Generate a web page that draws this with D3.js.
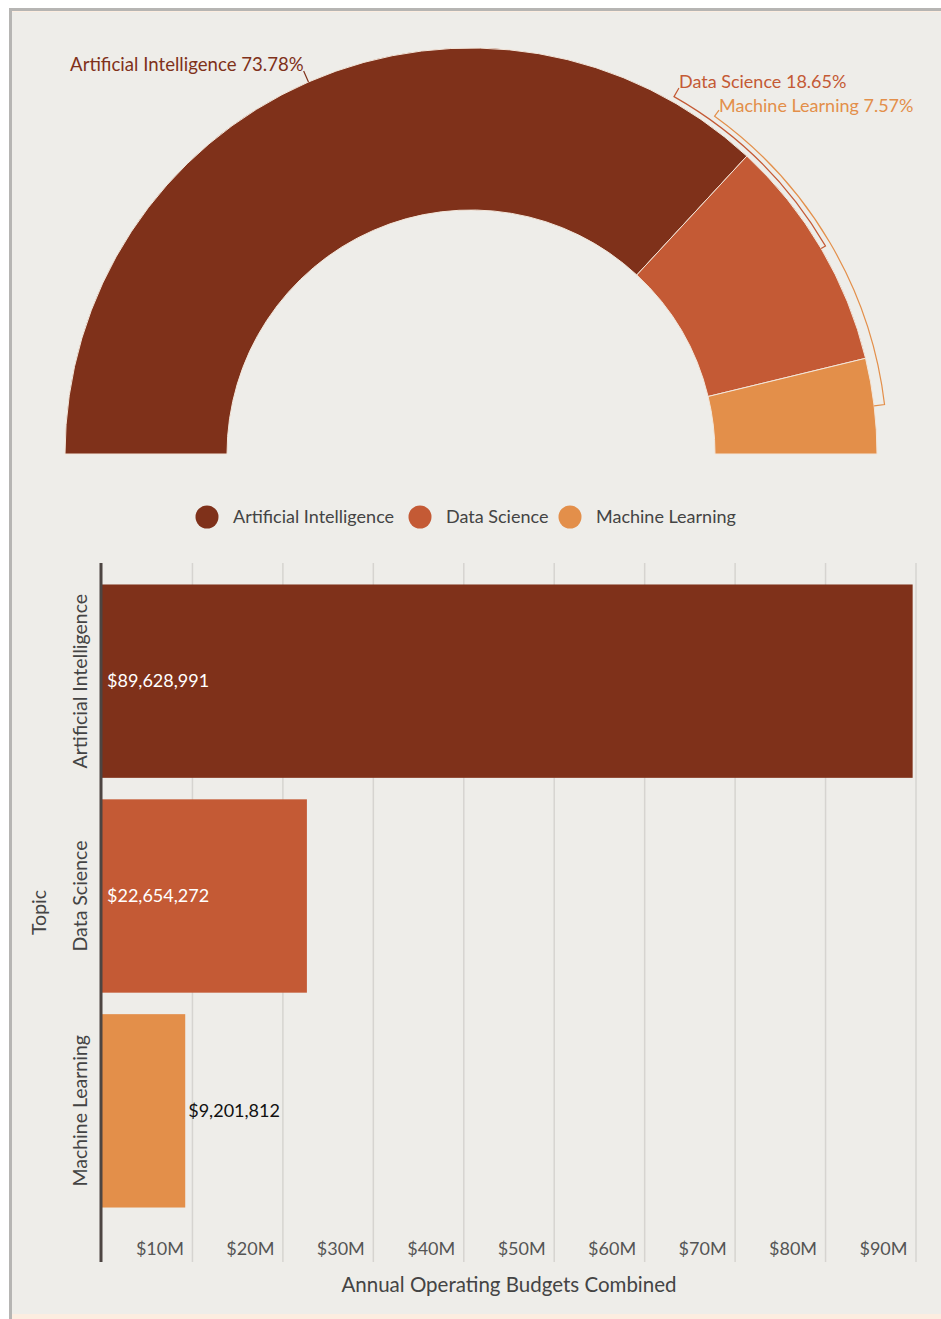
<!DOCTYPE html>
<html>
<head>
<meta charset="utf-8">
<script src="https://cdn.jsdelivr.net/npm/d3@7"></script>
<style>
  html, body { margin: 0; padding: 0; background: #ffffff; }
  svg { display: block; font-family: Lato, "Open Sans", sans-serif; }
</style>
</head>
<body>
<svg id="chart" width="941" height="1319"></svg>
<script>
// Budget totals per topic
const topics = ["Artificial Intelligence", "Data Science", "Machine Learning"];
const budgets = [89628991, 22654272, 9201812];
const shareLabels = ["73.78%", "18.65%", "7.57%"];
const colors = ["#7f311a", "#c45a35", "#e38f4a"];
const xTickValues = [10e6, 20e6, 30e6, 40e6, 50e6, 60e6, 70e6, 80e6, 90e6];
const xTitle = "Annual Operating Budgets Combined";
const yTitle = "Topic";

const data = topics.map((t, i) => ({ topic: t, value: budgets[i], share: shareLabels[i], color: colors[i] }));

const svg = d3.select("#chart");

// Frame: grey inset edge at top/left, warm base, panel background
svg.append("rect").attr("x", 9).attr("y", 8).attr("width", 932).attr("height", 1311).attr("fill", "#b6b5b3");
svg.append("rect").attr("x", 12).attr("y", 11).attr("width", 929).attr("height", 1308).attr("fill", "#fcede0");
svg.append("rect").attr("x", 12).attr("y", 12).attr("width", 929).attr("height", 1302).attr("fill", "#eeede9");

// ---------- Half donut ----------
const cx = 471, cy = 454, outerR = 406, innerR = 244;
const pie = d3.pie().value(d => d.value).sort(null)
  .startAngle(-Math.PI / 2).endAngle(Math.PI / 2);
const arcs = pie(data);
const arcGen = d3.arc().innerRadius(innerR).outerRadius(outerR);

const donut = svg.append("g").attr("transform", `translate(${cx},${cy})`);
donut.selectAll("path.slice").data(arcs).join("path")
  .attr("class", "slice")
  .attr("d", arcGen)
  .attr("fill", d => d.data.color)
  .attr("stroke", "#f3e6da")
  .attr("stroke-width", 1);

// Callout placement: label angle (deg, clockwise from top; null = slice middle),
// radius of the guide arc, radius where the label sits
const callouts = [
  { angle: null, guideR: outerR, labelR: 418, anchor: "end", dy: 0, size: 18.6 },
  { angle: 29.6, guideR: 411, labelR: 421, anchor: "start", dy: 0, size: 18 },
  { angle: 35.8, guideR: 416.5, labelR: 424, anchor: "start", dy: 2, size: 18 }
];
const polar = (r, a) => [r * Math.sin(a), -r * Math.cos(a)];

arcs.forEach((a, i) => {
  const c = callouts[i];
  const mid = (a.startAngle + a.endAngle) / 2;
  const la = c.angle === null ? mid : c.angle * Math.PI / 180;
  const p = d3.path();
  const [lx, ly] = polar(c.labelR, la);
  p.moveTo(lx, ly);
  const [gx, gy] = polar(c.guideR, la);
  p.lineTo(gx, gy);
  if (c.angle !== null) {
    p.arc(0, 0, c.guideR, la - Math.PI / 2, mid - Math.PI / 2, la > mid);
  }
  const [ex, ey] = polar(outerR, mid);
  p.lineTo(ex, ey);
  donut.append("path")
    .attr("d", p.toString())
    .attr("fill", "none")
    .attr("stroke", a.data.color)
    .attr("stroke-width", 1.2);
  donut.append("text")
    .attr("x", lx)
    .attr("y", ly + c.dy)
    .attr("text-anchor", c.anchor)
    .attr("fill", a.data.color)
    .attr("font-size", c.size)
    .text(`${a.data.topic} ${a.data.share}`);
});

// ---------- Legend ----------
const legendX = [207, 420, 570];
const legend = svg.append("g").attr("transform", "translate(0,517)");
const li = legend.selectAll("g").data(data).join("g")
  .attr("transform", (d, i) => `translate(${legendX[i]},0)`);
li.append("circle").attr("r", 11.5).attr("fill", d => d.color);
li.append("text")
  .attr("x", 26)
  .attr("dy", "0.35em")
  .attr("fill", "#444444")
  .attr("font-size", 18)
  .text(d => d.topic);

// ---------- Horizontal bars ----------
const plotLeft = 102, plotRight = 916, plotTop = 563, bandBottom = 1229, axisBottom = 1262;

const x = d3.scaleLinear().domain([0, 90e6]).range([plotLeft, plotRight]);
const y = d3.scaleBand().domain(topics).range([plotTop, bandBottom])
  .paddingInner(0.1).paddingOuter(0.1);

const bars = svg.append("g");

// Vertical grid lines
bars.append("g").selectAll("line").data(xTickValues).join("line")
  .attr("x1", d => x(d)).attr("x2", d => x(d))
  .attr("y1", plotTop).attr("y2", axisBottom)
  .attr("stroke", "#d6d4d0").attr("stroke-width", 1.5);

// Bars
bars.append("g").selectAll("rect").data(data).join("rect")
  .attr("x", x(0))
  .attr("y", d => y(d.topic))
  .attr("width", d => x(d.value) - x(0))
  .attr("height", y.bandwidth())
  .attr("fill", d => d.color);

// Value labels: inside the bar when it fits, otherwise just past its end
const fmt = d3.format("$,");
bars.append("g").selectAll("text").data(data).join("text")
  .attr("font-size", 18)
  .attr("dy", "0.35em")
  .attr("y", d => y(d.topic) + y.bandwidth() / 2)
  .each(function (d) {
    const t = d3.select(this).text(fmt(d.value));
    const w = this.getComputedTextLength();
    const inside = x(d.value) - x(0) > w + 12;
    t.attr("x", inside ? x(0) + 5 : x(d.value) + 3)
     .attr("fill", inside ? "#ffffff" : "#111111");
  });

// X tick labels, set just left of each grid line
const xAxis = d3.axisBottom(x).tickValues(xTickValues)
  .tickFormat(d => `$${d / 1e6}M`).tickSize(0);
const xg = bars.append("g").attr("transform", `translate(0,${axisBottom - 13})`).call(xAxis);
xg.select(".domain").remove();
xg.selectAll("text")
  .attr("text-anchor", "end")
  .attr("x", -9)
  .attr("y", 0)
  .attr("dy", "0.35em")
  .attr("font-size", 18)
  .attr("font-family", "Lato, 'Open Sans', sans-serif")
  .attr("fill", "#555555");

// Y category labels, rotated
const yAxis = d3.axisLeft(y).tickSize(0);
const yg = bars.append("g").attr("transform", `translate(${plotLeft},0)`).call(yAxis);
yg.select(".domain").remove();
yg.selectAll("text")
  .attr("transform", "rotate(-90)")
  .attr("text-anchor", "middle")
  .attr("x", 0)
  .attr("y", -15)
  .attr("dy", 0)
  .attr("font-size", 19.5)
  .attr("font-family", "Lato, 'Open Sans', sans-serif")
  .attr("fill", "#444444");

// Category axis line
bars.append("line")
  .attr("x1", plotLeft - 1).attr("x2", plotLeft - 1)
  .attr("y1", plotTop).attr("y2", axisBottom)
  .attr("stroke", "#4d4542").attr("stroke-width", 3);

// Axis titles
svg.append("text")
  .attr("x", (plotLeft + plotRight) / 2)
  .attr("y", 1285)
  .attr("dy", "0.35em")
  .attr("text-anchor", "middle")
  .attr("font-size", 20.5)
  .attr("fill", "#444444")
  .text(xTitle);

svg.append("text")
  .attr("transform", `translate(39,${(plotTop + axisBottom) / 2}) rotate(-90)`)
  .attr("dy", "0.35em")
  .attr("text-anchor", "middle")
  .attr("font-size", 19.5)
  .attr("fill", "#444444")
  .text(yTitle);
</script>
</body>
</html>
